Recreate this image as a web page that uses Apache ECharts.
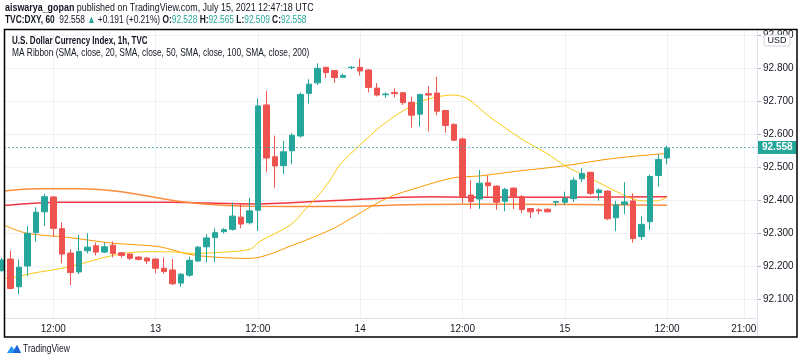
<!DOCTYPE html>
<html><head><meta charset="utf-8">
<script src="https://cdn.jsdelivr.net/npm/echarts@6/dist/echarts.min.js"></script>
<style>html,body{margin:0;padding:0;background:#fff}#c{width:800px;height:362px}</style>
</head><body><div id="c"></div>
<script>
// hours counted from 00:00 on July 12 (1h bars)
const hours = [6,7,8,9,10,11,12,13,14,15,16,17,18,19,20,21,22,23,24,25,26,27,28,29,30,31,32,33,34,35,36,37,38,39,40,41,42,43,44,45,46,47,48,49,50,51,52,53,54,55,56,57,58,59,60,61,62,63,64,65,66,67,68,69,70,71,72,73,74,75,76,77,78,79,80,81,82,83,84];
const opens = [92.187,92.222,92.138,92.201,92.302,92.365,92.410,92.314,92.240,92.183,92.247,92.262,92.243,92.264,92.241,92.237,92.228,92.225,92.222,92.194,92.189,92.149,92.173,92.216,92.259,92.287,92.305,92.312,92.349,92.332,92.370,92.689,92.532,92.505,92.550,92.595,92.724,92.756,92.803,92.793,92.773,92.802,92.803,92.795,92.740,92.720,92.727,92.726,92.697,92.661,92.723,92.725,92.672,92.630,92.586,92.416,92.404,92.453,92.443,92.397,92.437,92.411,92.375,92.371,92.373,92.394,92.394,92.405,92.465,92.485,92.423,92.428,92.347,92.388,92.398,92.290,92.335,92.475,92.528];
const closes = [92.219,92.133,92.197,92.300,92.364,92.411,92.315,92.237,92.181,92.245,92.258,92.243,92.259,92.239,92.233,92.224,92.221,92.216,92.194,92.184,92.147,92.176,92.218,92.258,92.286,92.302,92.311,92.352,92.328,92.368,92.686,92.528,92.504,92.547,92.597,92.721,92.752,92.800,92.787,92.772,92.778,92.803,92.792,92.742,92.719,92.722,92.723,92.696,92.658,92.721,92.719,92.670,92.627,92.582,92.412,92.396,92.452,92.444,92.394,92.433,92.409,92.372,92.365,92.368,92.365,92.396,92.406,92.461,92.481,92.421,92.431,92.344,92.386,92.395,92.284,92.327,92.472,92.524,92.558];
const lows = [92.183,92.130,92.115,92.171,92.275,92.322,92.290,92.209,92.143,92.176,92.239,92.233,92.240,92.227,92.226,92.219,92.218,92.207,92.179,92.178,92.143,92.138,92.168,92.214,92.212,92.212,92.300,92.308,92.315,92.327,92.307,92.485,92.438,92.480,92.510,92.590,92.693,92.749,92.770,92.756,92.772,92.797,92.778,92.727,92.715,92.711,92.712,92.689,92.620,92.623,92.609,92.658,92.605,92.581,92.391,92.374,92.374,92.411,92.371,92.367,92.373,92.361,92.347,92.358,92.363,92.382,92.386,92.395,92.455,92.416,92.399,92.340,92.306,92.358,92.272,92.280,92.310,92.441,92.509];
const highs = [92.225,92.247,92.221,92.322,92.379,92.419,92.413,92.333,92.252,92.295,92.300,92.272,92.272,92.275,92.243,92.239,92.230,92.228,92.224,92.227,92.222,92.179,92.229,92.262,92.297,92.315,92.316,92.393,92.390,92.408,92.709,92.731,92.596,92.580,92.603,92.727,92.767,92.815,92.804,92.794,92.784,92.807,92.830,92.797,92.755,92.727,92.739,92.727,92.714,92.722,92.746,92.774,92.672,92.633,92.590,92.461,92.492,92.475,92.445,92.438,92.439,92.416,92.375,92.376,92.375,92.396,92.426,92.470,92.497,92.486,92.436,92.430,92.398,92.455,92.421,92.352,92.478,92.540,92.565];

// MA ribbon
const sma20H = [6.2,7.7,9.6,13.6,19,22.5,25.7,28.4,32,35.1,36.2,39.8,41.7,43.3,44.5,45.6,48,51.1,55.1,58.9,60.5,63.2,67.1,69.9,72.2,75,78.5,80.8,82.8,84];
const sma20V = [92.163,92.168,92.179,92.197,92.233,92.244,92.244,92.239,92.243,92.252,92.275,92.325,92.376,92.421,92.462,92.507,92.568,92.638,92.699,92.719,92.709,92.653,92.583,92.542,92.502,92.467,92.421,92.399,92.398,92.409];
const sma50H = [6.2,8.9,13.6,19,24.5,28.4,35.1,40.2,44.5,45.6,51.1,55.1,58.9,62.1,66,71.8,77.7,84];
const sma50V = [92.325,92.300,92.288,92.270,92.259,92.234,92.224,92.265,92.310,92.325,92.406,92.441,92.468,92.474,92.487,92.504,92.527,92.542];
const sma100H = [6.2,10,15,20,25.7,30,35,45,55,65,84];
const sma100V = [92.428,92.435,92.435,92.426,92.401,92.388,92.382,92.381,92.387,92.388,92.385];
const sma200H = [6.2,12.8,25.7,35.1,44.5,56.2,62,84];
const sma200V = [92.384,92.394,92.394,92.389,92.399,92.411,92.409,92.411];

const tickHours = [12,24,36,48,60,72,84,93];
const tickLabels = ['12:00','13','12:00','14','12:00','15','12:00','21:00'];
const priceTicks = [92.1,92.2,92.3,92.4,92.5,92.6,92.7,92.8,92.9];

const lastClose = closes[closes.length-1];
const candleData = hours.map((h,i)=>[h,opens[i],closes[i],lows[i],highs[i]]);
const zip = (a,b)=>a.map((x,i)=>[x,b[i]]);

const F = "'Liberation Sans',Arial,sans-serif";
const TXT = '#131722';
const UP = '#26a69a', DOWN = '#ef5350';

const chart = echarts.init(document.getElementById('c'), null, {renderer:'canvas'});
const maLine = (name, h, v, color, w) => ({
  name, type:'line', data: zip(h,v), showSymbol:false, smooth:0.3, silent:true,
  lineStyle:{color, width:w}, z:3
});
const txt = (x, y, sx, style, z) => ({type:'text', x, y, scaleX:sx, z:z||10,
  style:Object.assign({fill:TXT, verticalAlign:'middle', align:'left'}, style)});
chart.setOption({
  animation:false,
  backgroundColor:'#fff',
  grid:{left:4, right:43, top:30, bottom:44, containLabel:false},
  xAxis:{
    type:'value', min:6.22, max:94.55,
    axisLine:{show:true, lineStyle:{color:'#e0e3eb'}},
    axisTick:{show:false, customValues:tickHours},
    axisLabel:{customValues:tickHours, color:TXT, fontFamily:F, fontSize:10, margin:6,
      formatter:(v)=>{const i=tickHours.indexOf(v); return i>=0?tickLabels[i]:'';}},
    splitLine:{show:true, lineStyle:{color:'#eef1f6', width:1}}
  },
  yAxis:{
    type:'value', position:'right', min:92.0433, max:92.9161, scale:true,
    axisLine:{show:true, lineStyle:{color:'#e0e3eb'}},
    axisTick:{show:true, customValues:priceTicks, length:4, lineStyle:{color:'#b2b5be'}},
    axisLabel:{customValues:priceTicks, color:TXT, fontFamily:F, fontSize:10, margin:6,
      formatter:(v)=>v.toFixed(3)},
    splitLine:{show:true, lineStyle:{color:'#eef1f6', width:1}}
  },
  series:[
    maLine('SMA200', sma200H, sma200V, '#f23645', 1.5),
    maLine('SMA100', sma100H, sma100V, '#fb8c3c', 1.5),
    maLine('SMA50', sma50H, sma50V, '#fb9800', 1),
    maLine('SMA20', sma20H, sma20V, '#f9c80e', 1),
    {
      type:'candlestick', data:candleData, encode:{x:0, y:[1,2,3,4]},
      barWidth:6, z:4,
      itemStyle:{color:UP, color0:DOWN, borderColor:UP, borderColor0:DOWN, borderWidth:1},
      markLine:{
        symbol:'none', silent:true, animation:false,
        data:[{yAxis:lastClose}],
        lineStyle:{color:'rgba(38,166,154,0.7)', type:[2,2], width:1},
        label:{show:true, position:'end', distance:0, formatter:lastClose.toFixed(3),
          backgroundColor:UP, color:'#fff', fontWeight:'bold', fontFamily:F, fontSize:10,
          padding:[2,4,1,5], opacity:1}
      }
    }
  ],
  graphic:[
    txt(5, 8, 0.81, {text:'{b|aiswarya_gopan} published on TradingView.com, July 15, 2021 12:47:18 UTC',
      font:'11px '+F, rich:{b:{fontWeight:'bold', fontFamily:F, fontSize:11, fill:TXT}}}),
    txt(5, 20, 0.76, {text:'{b|TVC:DXY, 60}  92.558 {g|▲} +0.191 (+0.21%) {b|O:}{g|92.528} {b|H:}{g|92.565} {b|L:}{g|92.509} {b|C:}{g|92.558}',
      font:'11px '+F, rich:{b:{fontWeight:'bold', fontFamily:F, fontSize:11, fill:TXT},
        g:{fontFamily:F, fontSize:11, fill:UP}}}),
    txt(12, 41, 0.73, {text:'U.S. Dollar Currency Index, 1h, TVC', font:'bold 11px '+F}),
    txt(12, 53, 0.76, {text:'MA Ribbon (SMA, close, 20, SMA, close, 50, SMA, close, 100, SMA, close, 200)', font:'11px '+F}),
    {type:'line', z:10, shape:{x1:757.5,y1:30,x2:757.5,y2:337}, style:{stroke:'#e0e3eb', lineWidth:1}},
    {type:'rect', z:11, shape:{x:764,y:35,width:26,height:11,r:2}, style:{fill:'#fff', stroke:'#d1d4dc', lineWidth:1}},
    txt(777, 40.5, 1, {text:'USD', font:'9px '+F, align:'center'}, 12),
    {type:'rect', z:20, shape:{x:4.5,y:29.5,width:792.5,height:307.5}, style:{fill:'none', stroke:'#000', lineWidth:1.5}},
    {type:'polygon', z:12, shape:{points:[[7,353],[11.5,346],[14,349.5],[17,345],[21,353]]}, style:{fill:'#2196f3'}},
    {type:'polygon', z:13, shape:{points:[[13,353],[17,345],[21,353]]}, style:{fill:'#1e63d6'}},
    txt(23, 349, 0.85, {text:'TradingView', font:'10px '+F}, 12)
  ]
});
</script></body></html>
